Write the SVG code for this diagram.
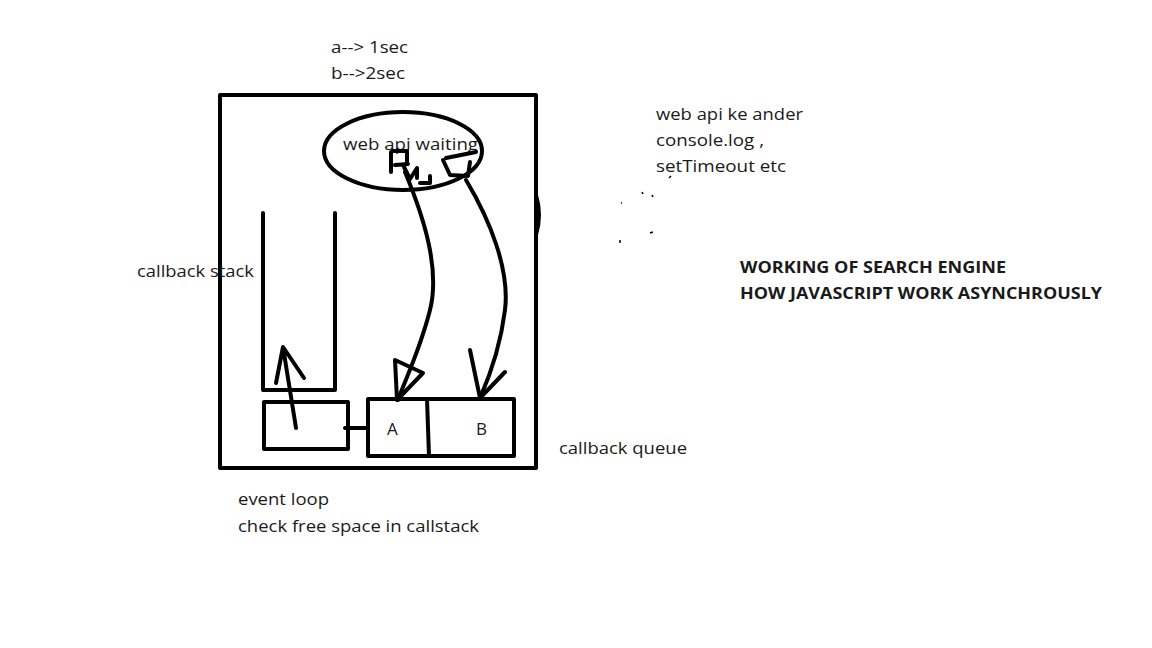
<svg xmlns="http://www.w3.org/2000/svg" width="1152" height="648" viewBox="0 0 1152 648">
<style>
.t{font-family:"Open Sans","Liberation Sans",sans-serif;font-size:17px;fill:#1a1a1a}
.b{font-weight:bold;font-size:16px}
.s{fill:none;stroke:#000;stroke-width:4;stroke-linecap:round;stroke-linejoin:round}
</style>
<rect width="1152" height="648" fill="#fff"/>
<g id="outer"><rect x="220" y="95" width="316" height="373" class="s"/><path d="M536 195 Q542 215 536 235" class="s"/></g>
<g id="webapi"><ellipse cx="403" cy="151" rx="79" ry="39" class="s"/>
<text class="t" x="343" y="150" textLength="135" lengthAdjust="spacingAndGlyphs">web api waiting</text>
<path d="M391 152 L391 172 M392 151 L407 151 L407 162 M395 165 L408 164 M404 167 L410 179 L417 168 L417 178 M420 183 L430 183 L430 176" class="s" stroke-width="3"/>
<path d="M446 158 L476 152 M443 160 L450 175 L468 176 L470 162" class="s" stroke-width="3"/></g>
<g id="callstack"><path d="M263 213 L263 390 L335 390 L335 213" class="s"/></g>
<g id="eventloop"><rect x="264" y="402" width="84" height="47" class="s"/></g>
<g id="queue"><rect x="368" y="399" width="146" height="57" class="s"/><line x1="427" y1="399" x2="429" y2="456" class="s"/>
<text class="t" x="387" y="435">A</text><text class="t" x="476" y="435">B</text></g>
<g id="connectors">
<path d="M296 428 L283 347 M276 383 L283 347 L304 378" class="s"/>
<line x1="345" y1="428" x2="368" y2="428" class="s"/>
<path d="M405 172 C425 220 440 270 430 310 C420 350 405 380 398 400" class="s"/>
<path d="M395 360 L423 373 L397 400 Z" class="s"/>
<path d="M466 180 C490 220 510 270 505 310 C500 350 488 380 480 398" class="s"/>
<path d="M470 350 L480 398 L505 372" class="s"/>
</g>
<g id="marks" stroke="#000" stroke-width="1.5">
<line x1="642" y1="192" x2="643" y2="194"/><line x1="652" y1="195" x2="653" y2="197"/><line x1="621" y1="203" x2="622" y2="203"/><line x1="650" y1="233" x2="653" y2="232"/><line x1="620" y1="240" x2="620" y2="243"/><line x1="669" y1="178" x2="671" y2="176"/>
</g>
<g id="labels">
<text class="t" x="331" y="53" textLength="77" lengthAdjust="spacingAndGlyphs">a--&gt; 1sec</text>
<text class="t" x="331" y="79" textLength="74" lengthAdjust="spacingAndGlyphs">b--&gt;2sec</text>
<text class="t" x="656" y="120" textLength="147" lengthAdjust="spacingAndGlyphs">web api ke ander</text>
<text class="t" x="656" y="146" textLength="108" lengthAdjust="spacingAndGlyphs">console.log ,</text>
<text class="t" x="656" y="172" textLength="130" lengthAdjust="spacingAndGlyphs">setTimeout etc</text>
<text class="t" x="137" y="277" textLength="117" lengthAdjust="spacingAndGlyphs">callback stack</text>
<text class="t" x="559" y="454" textLength="128" lengthAdjust="spacingAndGlyphs">callback queue</text>
<text class="t" x="238" y="505" textLength="91" lengthAdjust="spacingAndGlyphs">event loop</text>
<text class="t" x="238" y="532" textLength="241" lengthAdjust="spacingAndGlyphs">check free space in callstack</text>
<text class="t b" x="740" y="273" textLength="266" lengthAdjust="spacingAndGlyphs">WORKING OF SEARCH ENGINE</text>
<text class="t b" x="740" y="299" textLength="362" lengthAdjust="spacingAndGlyphs">HOW JAVASCRIPT WORK ASYNCHROUSLY</text>
</g>
</svg>
